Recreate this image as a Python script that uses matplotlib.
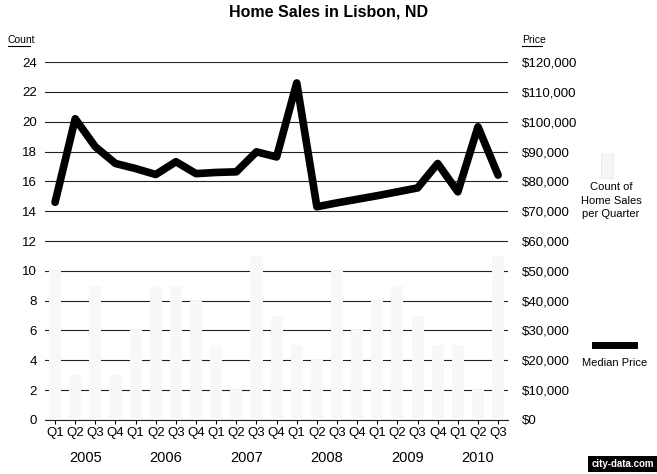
import matplotlib
matplotlib.use('Agg')
import matplotlib.pyplot as plt
import numpy as np
from matplotlib.lines import Line2D
from matplotlib.patches import Rectangle

plt.rcParams['font.family'] = ['Liberation Sans', 'DejaVu Sans']

quarters = ['Q1', 'Q2', 'Q3', 'Q4'] * 5 + ['Q1', 'Q2', 'Q3']
years = ['2005', '2006', '2007', '2008', '2009', '2010']
# count of home sales per quarter (bars, very faint in the original)
counts = [10, 3, 9, 3, 6, 9, 9, 8, 5, 2, 11, 7,
          5, 4, 10, 6, 8, 9, 7, 5, 5, 2, 11]
# median price per quarter
prices = [73000, 101000, 91600, 86000, 84300, 82300, 86600, 82600,
          83000, 83200, 89900, 88200, 113000, 71500, 72800, 74000,
          75200, 76500, 77800, 86000, 76500, 98300, 82100]

x = np.arange(len(quarters))

fig = plt.figure(figsize=(6.57, 4.74), dpi=100)
ax = fig.add_axes([0.0685, 0.114, 0.705, 0.755])
ax2 = ax.twinx()

ax.bar(x, counts, width=0.6, color='#f8f8f8', zorder=2)
ax.set_ylim(0, 24)
ax.set_xlim(-0.5, len(x) - 0.5)
ax.set_yticks(range(0, 25, 2))
ax.yaxis.grid(True, color='#222222', lw=0.8, zorder=1)
ax.set_axisbelow(True)
for s in ['top', 'left', 'right']:
    ax.spines[s].set_visible(False)
    ax2.spines[s].set_visible(False)
ax.spines['bottom'].set_color('#222222')
ax2.spines['bottom'].set_visible(False)
ax.tick_params(axis='y', length=0, labelsize=9.5, pad=6)
ax.set_xticks(x)
ax.set_xticklabels(quarters, fontsize=9.5)
ax.tick_params(axis='x', length=3, pad=2)

ax2.plot(x, prices, color='black', lw=5.5, solid_joinstyle='round',
         solid_capstyle='round', zorder=5)
ax2.set_ylim(0, 120000)
ax2.set_yticks(range(0, 120001, 10000))
ax2.set_yticklabels(['$0'] + ['${:,}'.format(v) for v in range(10000, 120001, 10000)],
                    fontsize=9.5)
ax2.tick_params(axis='y', length=0, pad=10)

# year labels under the quarters
for i, yr in enumerate(years):
    mid = i * 4 + 1.5 if i < 5 else 21
    ax.text(mid, -2.05, yr, ha='center', va='top', fontsize=10.5)

fig.text(0.5, 0.99, 'Home Sales in Lisbon, ND', ha='center', va='top',
         fontsize=11.5, fontweight='bold')
fig.text(0.012, 0.905, 'Count', fontsize=7.5, ha='left', va='bottom')
fig.add_artist(Line2D([0.012, 0.045], [0.903, 0.903], color='black', lw=0.8))
fig.text(0.795, 0.905, 'Price', fontsize=7.5, ha='left', va='bottom')
fig.add_artist(Line2D([0.795, 0.825], [0.903, 0.903], color='black', lw=0.8))

# legend
fig.add_artist(Rectangle((0.915, 0.625), 0.018, 0.05, facecolor='#f6f6f6',
                         edgecolor='#e4e4e4', lw=0.5))
fig.text(0.93, 0.615, 'Count of\nHome Sales\nper Quarter', ha='center', va='top',
         fontsize=8, linespacing=1.4)
fig.add_artist(Line2D([0.905, 0.965], [0.272, 0.272], color='black', lw=5))
fig.text(0.935, 0.245, 'Median Price', ha='center', va='top', fontsize=8)

fig.text(0.995, 0.01, 'city-data.com', ha='right', va='bottom', fontsize=7,
         color='white', fontweight='bold',
         bbox=dict(facecolor='black', edgecolor='none', pad=2))

fig.savefig('out.png', dpi=100)
